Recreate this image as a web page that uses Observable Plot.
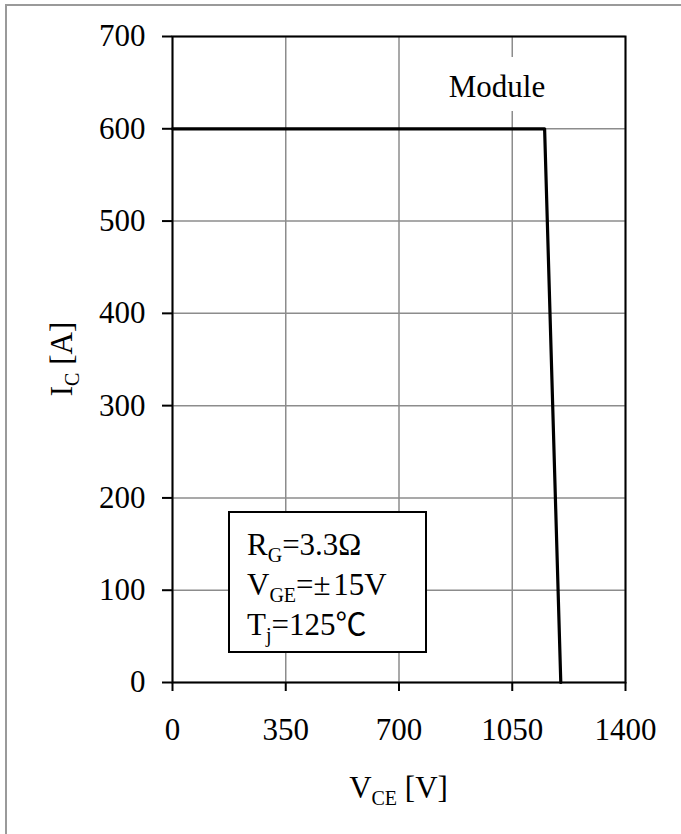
<!DOCTYPE html>
<html>
<head>
<meta charset="utf-8">
<script src="https://cdn.jsdelivr.net/npm/d3@7"></script>
<script src="https://cdn.jsdelivr.net/npm/@observablehq/plot@0.6"></script>
<style>
  html, body { margin: 0; padding: 0; background: #fff; }
  #wrap { position: relative; width: 681px; height: 834px; overflow: hidden; font-family: "Liberation Serif", "Times New Roman", serif; }
  .ov { position: absolute; font-family: "Liberation Serif", "Times New Roman", "Noto Sans CJK JP", serif; font-size: 31px; color: #000; white-space: nowrap; line-height: 1; }
  .sb { font-size: 20px; position: relative; top: 7px; }
</style>
</head>
<body>
<div id="wrap"></div>
<script>
// Data (V_CE in volts, I_C in amperes) – RBSOA boundary
const vce = [0, 1150, 1200];
const ic = [600, 600, 0];
const xTicks = [0, 350, 700, 1050, 1400];
const yTicks = [0, 100, 200, 300, 400, 500, 600, 700];
const xTitle = ["V", "CE", " [V]"];
const yTitle = ["I", "C", " [A]"];
const moduleLabel = "Module";
const legendLines = [["R", "G", "=3.3Ω"], ["V", "GE", "=±\u200a15V"], ["T", "j", "=125℃"]];

const data = vce.map((v, i) => ({v, i: ic[i]}));

const W = 681, H = 834;
const mL = 172, mR = 56, mT = 36, mB = 152;

const chart = Plot.plot({
  width: W,
  height: H,
  marginLeft: mL,
  marginRight: mR,
  marginTop: mT,
  marginBottom: mB,
  style: { fontFamily: "Liberation Serif, Times New Roman, serif", fontSize: "31px", background: "transparent", overflow: "visible" },
  x: { domain: [0, 1400] },
  y: { domain: [0, 700] },
  marks: [
    Plot.gridX(xTicks, { stroke: "#8c8c8c", strokeOpacity: 1, strokeWidth: 1.5 }),
    Plot.gridY(yTicks, { stroke: "#8c8c8c", strokeOpacity: 1, strokeWidth: 1.5 }),
    Plot.line(data, { x: "v", y: "i", stroke: "black", strokeWidth: 3.2 }),
    Plot.frame({ stroke: "black", strokeWidth: 2 }),
    Plot.axisX({ ticks: xTicks, tickSize: 9, tickPadding: 26, strokeWidth: 2, stroke: "black", fill: "black", fontSize: 31, label: null, tickFormat: d => String(d) }),
    Plot.axisY({ ticks: yTicks, tickSize: 10, tickPadding: 17, strokeWidth: 2, stroke: "black", fill: "black", fontSize: 31, label: null, tickFormat: d => String(d) })
  ]
});

const wrap = document.getElementById("wrap");
wrap.appendChild(chart);

// outer grey border (top and left only visible)
const border = document.createElement("div");
border.style.cssText = "position:absolute;left:5px;top:4px;width:800px;height:900px;border-top:2px solid #9a9a9a;border-left:2px solid #9a9a9a;";
wrap.appendChild(border);

function mk(parts, cls) {
  const d = document.createElement("div");
  d.className = "ov" + (cls ? " " + cls : "");
  d.innerHTML = parts[0] + '<span class="sb">' + parts[1] + '</span>' + parts[2];
  return d;
}

// x title
const xt = mk(xTitle);
xt.style.left = "0px"; xt.style.width = "797px"; xt.style.textAlign = "center";
xt.style.top = "772px";
wrap.appendChild(xt);

// y title (rotated)
const yt = mk(yTitle);
yt.style.left = "61px"; yt.style.top = "359px";
yt.style.transform = "translate(-50%,-50%) rotate(-90deg)";
wrap.appendChild(yt);

// Module label with white background
const ml = document.createElement("div");
ml.className = "ov";
ml.textContent = moduleLabel;
ml.style.cssText += "left:440px;top:57px;width:114px;height:54px;background:#fff;text-align:center;";
ml.style.lineHeight = "60px";
wrap.appendChild(ml);

// legend box
const lg = document.createElement("div");
lg.style.cssText = "position:absolute;left:228px;top:511px;width:195px;height:138px;background:#fff;border:2px solid #000;";
legendLines.forEach((p, k) => {
  const l = mk(p);
  l.style.left = "17px";
  l.style.top = (16 + k * 40) + "px";
  lg.appendChild(l);
});
wrap.appendChild(lg);
</script>
</body>
</html>
